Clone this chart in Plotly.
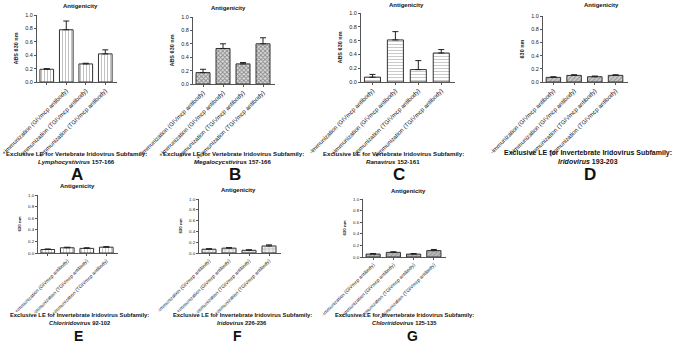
import plotly.graph_objects as go

W, H = 685, 345

# ---------------- data ----------------
bar_labels = ["-immunization (GIVmcp antibody)", "+immunization (GIVmcp antibody)",
              "-immunization (TGIVmcp antibody)", "+immunization (TGIVmcp antibody)"]

vals_A = [0.19, 0.78, 0.27, 0.42]
err_A = [0.01, 0.13, 0.01, 0.06]
vals_B = [0.17, 0.53, 0.30, 0.60]
err_B = [0.05, 0.07, 0.02, 0.09]
vals_C = [0.07, 0.61, 0.18, 0.42]
err_C = [0.04, 0.12, 0.13, 0.05]
vals_D = [0.07, 0.10, 0.08, 0.10]
err_D = [0.01, 0.01, 0.01, 0.01]
vals_E = [0.06, 0.09, 0.08, 0.10]
err_E = [0.01, 0.01, 0.01, 0.01]
vals_F = [0.07, 0.09, 0.05, 0.13]
err_F = [0.01, 0.01, 0.01, 0.02]
vals_G = [0.05, 0.08, 0.05, 0.11]
err_G = [0.01, 0.01, 0.01, 0.02]

y_ticks = [0.0, 0.2, 0.4, 0.6, 0.8, 1.0]
panel_title = "Antigenicity"

sub_line1 = ["Exclusive LE for Vertebrate Iridovirus Subfamily:"] * 3 + \
            ["Exclusive LE for Invertebrate Iridovirus Subfamily:"] * 4
sub_genus = ["Lymphocystivirus", "Megalocycstivirus", "Ranavirus", "Iridovirus",
             "Chloriridovirus", "Iridovirus", "Chloriridovirus"]
sub_range = ["157-166", "157-166", "152-161", "193-203", "92-102", "226-236", "125-135"]
letters = ["A", "B", "C", "D", "E", "F", "G"]
y_titles = ["ABS 630 nm", "ABS 630 nm", "ABS 630 nm", "630 nm", "630 nm", "630 nm", "630 nm"]

values = [vals_A, vals_B, vals_C, vals_D, vals_E, vals_F, vals_G]
errors = [err_A, err_B, err_C, err_D, err_E, err_F, err_G]

# ---------------- layout / style (pixels) ----------------
# letter y=None -> anchored on the bottom edge of the figure
panels = [
    dict(box=(37, 117, 15, 82), title=(80, 6), sub=(76, 153), letter=(77, 174), fs=6.0, sfs=6.1, lfs=17),
    dict(box=(193, 275, 17, 84), title=(228, 8), sub=(233, 153), letter=(235, 174), fs=6.0, sfs=6.1, lfs=17),
    dict(box=(361, 455, 13, 82), title=(406, 5), sub=(393, 153), letter=(399, 174), fs=6.0, sfs=6.1, lfs=17),
    dict(box=(543, 628, 16, 82), title=(601, 5), sub=(588, 153), letter=(590, 174), fs=6.0, sfs=7.0, lfs=17),
    dict(box=(38, 118, 195, 253), title=(77, 186), sub=(79, 315), letter=(78, None), fs=4.9, sfs=5.8, lfs=14),
    dict(box=(199, 281, 199, 253), title=(239, 190), sub=(242, 315), letter=(237, None), fs=4.9, sfs=5.8, lfs=14),
    dict(box=(363, 446, 199, 257), title=(408, 191), sub=(404, 315), letter=(412, None), fs=4.9, sfs=5.8, lfs=14),
]
patterns = [
    dict(shape="|", size=3, solidity=0.3, fgcolor="#777", bgcolor="#fff"),
    dict(shape="x", size=3, solidity=0.5, fgcolor="#333", bgcolor="#ddd"),
    dict(shape="-", size=3, solidity=0.3, fgcolor="#888", bgcolor="#fff"),
    dict(shape="/", size=3, solidity=0.4, fgcolor="#666", bgcolor="#ccc"),
    dict(shape="|", size=3, solidity=0.3, fgcolor="#888", bgcolor="#fff"),
    dict(shape="+", size=4, solidity=0.25, fgcolor="#555", bgcolor="#eee"),
    dict(shape="/", size=3, solidity=0.4, fgcolor="#777", bgcolor="#bbb"),
]

FONT = "Liberation Sans, Arial, sans-serif"

fig = go.Figure()
layout = dict(width=W, height=H, margin=dict(l=0, r=0, t=0, b=0),
              paper_bgcolor="white", plot_bgcolor="white", showlegend=False,
              bargap=0.3, font=dict(family=FONT, color="#222"), hovermode=False)
annotations = []

for i, p in enumerate(panels):
    n = i + 1
    sx = "" if n == 1 else str(n)
    x0, x1, yt, yb = p["box"]
    fig.add_trace(go.Bar(
        x=list(range(len(bar_labels))), y=values[i],
        xaxis="x" + sx, yaxis="y" + sx,
        marker=dict(color=patterns[i]["bgcolor"], line=dict(color="#333", width=1),
                    pattern=patterns[i]),
        error_y=dict(type="data", array=errors[i], arrayminus=[0] * 4, symmetric=False,
                     color="#222", thickness=1, width=3),
        width=0.7,
    ))
    layout["xaxis" + sx] = dict(
        domain=[x0 / W, x1 / W], anchor="y" + sx, range=[-0.5, 3.6],
        tickmode="array", tickvals=list(range(len(bar_labels))), ticktext=bar_labels,
        tickangle=-45, tickfont=dict(size=p["fs"], color="#222"),
        showline=True, linecolor="#555", linewidth=1, ticks="outside", ticklen=2,
        tickcolor="#555", showgrid=False, zeroline=False, automargin=False, fixedrange=True)
    layout["yaxis" + sx] = dict(
        domain=[1 - yb / H, 1 - yt / H], anchor="x" + sx, range=[0, 1.0],
        tickmode="array", tickvals=y_ticks, ticktext=["%.1f" % v for v in y_ticks],
        tickfont=dict(size=p["fs"] - 0.5, color="#222"),
        title=dict(text="<b>" + y_titles[i] + "</b>", font=dict(size=p["fs"] - 0.5, color="#222"),
                   standoff=6),
        showline=True, linecolor="#555", linewidth=1, ticks="outside", ticklen=2,
        tickcolor="#555", showgrid=False, zeroline=False, automargin=False, fixedrange=True)
    tx, ty = p["title"]
    annotations.append(dict(x=tx / W, y=1 - ty / H, xref="paper", yref="paper",
                            text="<b>" + panel_title + "</b>", showarrow=False,
                            font=dict(size=6, color="#111"), xanchor="center", yanchor="middle"))
    sxp, syp = p["sub"]
    annotations.append(dict(x=sxp / W, y=1 - syp / H, xref="paper", yref="paper",
                            text="<b>" + sub_line1[i] + "</b>",
                            showarrow=False, font=dict(size=p["sfs"], color="#111"),
                            xanchor="center", yanchor="middle"))
    annotations.append(dict(x=sxp / W, y=1 - (syp + 8) / H, xref="paper", yref="paper",
                            text="<b><i>" + sub_genus[i] + "</i> " + sub_range[i] + "</b>",
                            showarrow=False, font=dict(size=p["sfs"], color="#111"),
                            xanchor="center", yanchor="middle"))
    lx, ly = p["letter"]
    if ly is None:
        annotations.append(dict(x=lx / W, y=0, xref="paper", yref="paper",
                                text="<b>" + letters[i] + "</b>", showarrow=False,
                                font=dict(size=p["lfs"], color="#111"),
                                xanchor="center", yanchor="bottom", borderpad=0))
    else:
        annotations.append(dict(x=lx / W, y=1 - ly / H, xref="paper", yref="paper",
                                text="<b>" + letters[i] + "</b>", showarrow=False,
                                font=dict(size=p["lfs"], color="#111"),
                                xanchor="center", yanchor="middle", borderpad=0))

layout["annotations"] = annotations
fig.update_layout(**layout)
fig.write_html("out.html", config={"displayModeBar": False, "staticPlot": True},
               post_script="document.body.style.margin='0';document.body.style.overflow='hidden';")
